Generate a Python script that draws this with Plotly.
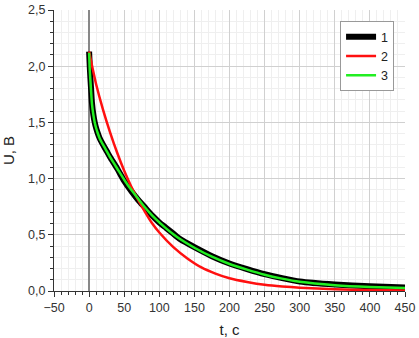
import plotly.graph_objects as go

# Series 1 (black) and 3 (green)
t1 = [0, 0.5, 1, 2, 3, 4, 6, 8, 10, 12, 15, 20, 25, 30, 40, 50, 60, 70, 80, 90, 100,
      110, 120, 130, 150, 175, 200, 225, 250, 275, 300, 350, 400, 450]
u1 = [2.13, 2.06, 1.99, 1.88, 1.78, 1.68, 1.57, 1.50, 1.45, 1.41, 1.36, 1.30, 1.245, 1.19,
      1.09, 0.98, 0.89, 0.81, 0.74, 0.67, 0.61, 0.56, 0.51, 0.46, 0.39, 0.31, 0.245,
      0.195, 0.15, 0.115, 0.085, 0.058, 0.042, 0.032]
u3 = [2.12, 2.04, 1.96, 1.86, 1.76, 1.67, 1.57, 1.50, 1.45, 1.41, 1.36, 1.30, 1.245, 1.19,
      1.09, 0.99, 0.90, 0.82, 0.74, 0.67, 0.61, 0.555, 0.505, 0.46, 0.385, 0.305, 0.24,
      0.19, 0.145, 0.11, 0.082, 0.052, 0.036, 0.027]

# Series 2 (red)
t2 = [0, 5, 10, 20, 30, 40, 50, 60, 70, 80, 90, 100, 120, 140, 160, 180, 200, 225,
      250, 275, 300, 350, 400, 450]
u2 = [2.13, 1.98, 1.84, 1.61, 1.41, 1.23, 1.07, 0.93, 0.81, 0.70, 0.60, 0.52, 0.39,
      0.29, 0.21, 0.155, 0.113, 0.080, 0.055, 0.040, 0.030, 0.016, 0.008, 0.005]

names = ["1", "2", "3"]
x_ticks = [-50, 0, 50, 100, 150, 200, 250, 300, 350, 400, 450]
y_ticks = [0.0, 0.5, 1.0, 1.5, 2.0, 2.5]

fig = go.Figure()
fig.add_trace(go.Scatter(x=t1, y=u1, mode="lines", name=names[0],
                         line=dict(color="black", width=6, shape="spline", smoothing=0.5)))
fig.add_trace(go.Scatter(x=t2, y=u2, mode="lines", name=names[1],
                         line=dict(color="#ff1010", width=2.5, shape="spline", smoothing=0.5)))
fig.add_trace(go.Scatter(x=t1, y=u3, mode="lines", name=names[2],
                         line=dict(color="#22ee22", width=2.5, shape="spline", smoothing=0.5)))

font_family = "Liberation Sans, Arial, sans-serif"
fig.update_layout(
    width=419, height=338,
    margin=dict(l=54, r=14, t=10, b=47, autoexpand=False),
    paper_bgcolor="white", plot_bgcolor="white",
    separators=", ",
    font=dict(family=font_family, color="#333333", size=12),
    showlegend=True,
    legend=dict(x=0.815, y=0.96, xanchor="left", yanchor="top",
                bgcolor="white", bordercolor="#999999", borderwidth=1,
                font=dict(size=12.5, color="#222222"), itemwidth=30,
                tracegroupgap=0),
    xaxis=dict(range=[-50, 450], tickvals=x_ticks, ticks="outside", ticklen=5,
               automargin=False,
               tickcolor="#333333", showline=True, linecolor="#333333", linewidth=1,
               showgrid=True, gridcolor="#d0d0d0", gridwidth=1,
               zeroline=True, zerolinecolor="#888888", zerolinewidth=2,
               tickfont=dict(size=12.5, color="#333333"),
               minor=dict(dtick=10, showgrid=True, gridcolor="#efefef",
                          ticks="outside", ticklen=3, tickcolor="#333333"),
               title=dict(text="t, с", font=dict(size=15, color="#222222"))),
    yaxis=dict(range=[0, 2.5], tickvals=y_ticks, tickformat=".1f", ticks="outside",
               automargin=False,
               ticklen=5, tickcolor="#333333", showline=True, linecolor="#333333",
               linewidth=1, showgrid=True, gridcolor="#d0d0d0", gridwidth=1,
               zeroline=False,
               tickfont=dict(size=12.5, color="#333333"),
               minor=dict(dtick=0.1, showgrid=True, gridcolor="#efefef",
                          ticks="outside", ticklen=3, tickcolor="#333333"),
               title=dict(text="U, В", font=dict(size=15, color="#222222"))),
)

fig.write_html("out.html", config={"displayModeBar": False},
               post_script="document.body.style.margin='0';")
